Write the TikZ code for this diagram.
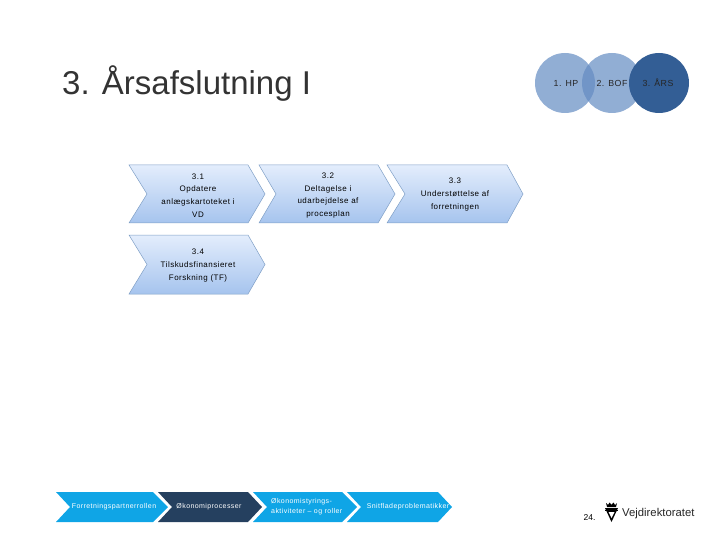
\documentclass[tikz,border=0pt]{standalone}
\usepackage{fontspec}
\setmainfont{Liberation Sans}
\newfontfamily\spaced[LetterSpace=6]{Liberation Sans}
\definecolor{chevtop}{HTML}{E3EDFC}
\definecolor{chevbot}{HTML}{A6C4EE}
\definecolor{chevline}{HTML}{7F9FC6}
\definecolor{navbright}{HTML}{0FA5E6}
\definecolor{navdark}{HTML}{25405F}
\definecolor{ringlight}{HTML}{638BC2}
\definecolor{ringdark}{HTML}{335E95}
\tikzset{
  chevlabel/.style={align=center,font=\spaced\fontsize{8}{12.7}\selectfont,text=black,inner sep=0pt},
  navlabel/.style={align=center,font=\spaced\fontsize{7}{10}\selectfont,text=white,inner sep=0pt},
  ringlabel/.style={font=\spaced\fontsize{8.8}{10}\selectfont,text=black!85,inner sep=0pt},
  ringshape/.style={circle,minimum size=60pt,inner sep=0pt,fill=ringlight,fill opacity=.7},
  chevshape/.style={draw=chevline,line width=.5pt,top color=chevtop,bottom color=chevbot,middle color=chevtop!50!chevbot},
}
% #1 left, #2 top-right x, #3 tip, #4 notch, #5 top, #6 mid, #7 bottom, #8 style
\newcommand{\chevpath}[8]{\path[#8] (#1,#5) -- (#2,#5) -- (#3,#6) -- (#2,#7) -- (#1,#7) -- (#4,#6) -- cycle;}
\begin{document}
\begin{tikzpicture}[x=1pt,y=-1pt]
\useasboundingbox (0,0) rectangle (720,540);
\node[anchor=west,inner sep=0pt,font=\fontsize{33}{36}\selectfont,text=black!80] (title) at (62,84) {3. Årsafslutning I};

\chevpath{129}{248}{265}{147}{165}{194}{223}{chevshape}
\chevpath{259}{378}{395}{276}{165}{194}{223}{chevshape}
\chevpath{387}{507}{523}{405}{165}{194}{223}{chevshape}
\chevpath{129}{248}{265}{147}{235}{264.5}{294}{chevshape}
\node[chevlabel] (a) at (198,195.5) {3.1\\Opdatere\\anlægskartoteket i\\VD};
\node[chevlabel] (b) at (328,195.5) {3.2\\Deltagelse i\\udarbejdelse af\\procesplan};
\node[chevlabel] (c) at (455,194.5) {3.3\\Understøttelse af\\forretningen};
\node[chevlabel] (d) at (198,265.5) {3.4\\Tilskudsfinansieret\\Forskning (TF)};

\chevpath{56}{153}{168}{70}{492}{507}{522}{fill=navbright}
\chevpath{158}{248}{262}{172}{492}{507}{522}{fill=navdark}
\chevpath{253}{342}{357}{267}{492}{507}{522}{fill=navbright}
\chevpath{347}{438}{452}{361}{492}{507}{522}{fill=navbright}
\node[navlabel] (e) at (114,507) {Forretningspartnerrollen};
\node[navlabel] (f) at (209,507) {Økonomiprocesser};
\node[navlabel,align=left,anchor=west] (g) at (271,507) {Økonomistyrings-\\aktiviteter – og roller};
\node[navlabel] (h) at (408,507) {Snitfladeproblematikker};

\node[ringshape] (r1) at (565,83) {};
\node[ringshape] (r2) at (612,83) {};
\node[ringshape,fill=ringdark,fill opacity=1] (r3) at (659,83) {};
\node[ringlabel] (l1) at (566,83) {1. HP};
\node[ringlabel] (l2) at (612,83) {2. BOF};
\node[ringlabel] (l3) at (658,83) {3. ÅRS};

\node[inner sep=0pt,font=\fontsize{8.5}{9}\selectfont] (page) at (589.5,517.5) {24.};
% logo
\fill[black] (606,503) -- (608,505) -- (609.5,502.5) -- (611.5,504.8) -- (613.5,502.5) -- (615,505) -- (617,503) -- (616,507) -- (607,507) -- cycle;
\fill[black] (605,508) -- (618,508) -- (611.5,522) -- cycle;
\fill[white] (608.5,512) -- (614.5,512) -- (611.5,518) -- cycle;
\fill[black] (605,509.6) rectangle (618,510.6);
\node[anchor=west,inner sep=0pt,font=\fontsize{11.3}{12}\selectfont,text=black!85] (logo) at (622,514) {Vejdirektoratet};
\end{tikzpicture}
\end{document}
